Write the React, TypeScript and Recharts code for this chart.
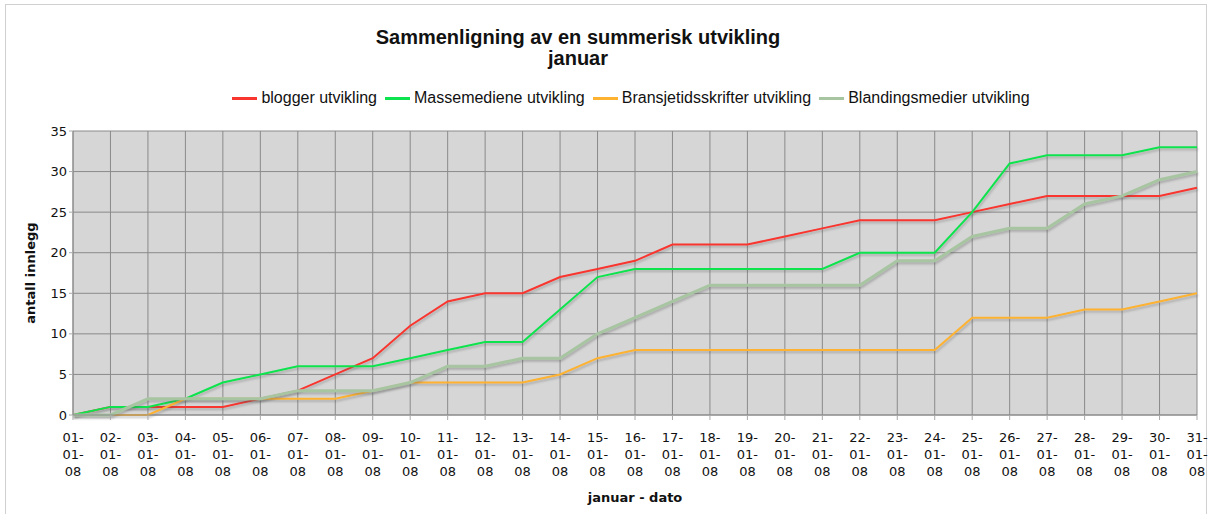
import { LineChart, Line, XAxis, YAxis, CartesianGrid } from "recharts";

const dates = [
  "01-01-08", "02-01-08", "03-01-08", "04-01-08", "05-01-08", "06-01-08", "07-01-08", "08-01-08",
  "09-01-08", "10-01-08", "11-01-08", "12-01-08", "13-01-08", "14-01-08", "15-01-08", "16-01-08",
  "17-01-08", "18-01-08", "19-01-08", "20-01-08", "21-01-08", "22-01-08", "23-01-08", "24-01-08",
  "25-01-08", "26-01-08", "27-01-08", "28-01-08", "29-01-08", "30-01-08", "31-01-08",
];
const blogger = [0, 1, 1, 1, 1, 2, 3, 5, 7, 11, 14, 15, 15, 17, 18, 19, 21, 21, 21, 22, 23, 24, 24, 24, 25, 26, 27, 27, 27, 27, 28];
const massemedier = [0, 1, 1, 2, 4, 5, 6, 6, 6, 7, 8, 9, 9, 13, 17, 18, 18, 18, 18, 18, 18, 20, 20, 20, 25, 31, 32, 32, 32, 33, 33];
const bransje = [0, 0, 0, 2, 2, 2, 2, 2, 3, 4, 4, 4, 4, 5, 7, 8, 8, 8, 8, 8, 8, 8, 8, 8, 12, 12, 12, 13, 13, 14, 15];
const blanding = [0, 0, 2, 2, 2, 2, 3, 3, 3, 4, 6, 6, 7, 7, 10, 12, 14, 16, 16, 16, 16, 16, 19, 19, 22, 23, 23, 26, 27, 29, 30];
const yTicks = [0, 5, 10, 15, 20, 25, 30, 35];

const series = [
  { key: "blogger", name: "blogger utvikling", color: "#f8362f", width: 2 },
  { key: "masse", name: "Massemediene utvikling", color: "#0ce34e", width: 2 },
  { key: "bransje", name: "Bransjetidsskrifter utvikling", color: "#fdb231", width: 2 },
  { key: "blanding", name: "Blandingsmedier utvikling", color: "#a8c5a2", width: 3 },
];

const data = dates.map((date, i) => ({
  date,
  blogger: blogger[i],
  masse: massemedier[i],
  bransje: bransje[i],
  blanding: blanding[i],
}));

const font = "'DejaVu Sans', Verdana, sans-serif";
const sans = "'Liberation Sans', Arial, sans-serif";

function DateTick(props: any) {
  const { x, y, payload } = props;
  const parts = String(payload.value).split("-");
  const lines = [parts[0] + "-", parts[1] + "-", parts[2]];
  return (
    <text x={x} y={y} textAnchor="middle" fontSize={13} fill="#111" fontFamily={font}>
      {lines.map((l, i) => (
        <tspan key={i} x={x} y={y + 20 + i * 17}>
          {l}
        </tspan>
      ))}
    </text>
  );
}

export default function App() {
  return (
    <div style={{ position: "fixed", left: 0, top: 0, width: 1210, height: 514, background: "#fff", overflow: "hidden" }}>
      <div style={{ position: "absolute", left: 5, top: 4, width: 1200, height: 530, border: "1px solid #d0d0d0" }} />
      <div style={{ position: "absolute", left: 328, width: 500, top: 27, textAlign: "center", fontFamily: sans, fontWeight: "bold", fontSize: 20, lineHeight: "21px", color: "#111" }}>
        Sammenligning av en summerisk utvikling
        <br />
        januar
      </div>
      <div style={{ position: "absolute", left: 0, width: 1270, top: 89, display: "flex", justifyContent: "center", fontFamily: sans, fontSize: 16, color: "#111" }}>
        {series.map((s) => (
          <div key={s.key} style={{ display: "flex", alignItems: "center", marginRight: 8 }}>
            <div style={{ width: 25, height: 3, background: s.color, marginRight: 4 }} />
            <span>{s.name}</span>
          </div>
        ))}
      </div>
      <LineChart width={1210} height={514} data={data} margin={{ top: 131, right: 13, bottom: 39, left: 28 }}>
        <defs>
          <filter id="shadow" x="-5%" y="-20%" width="110%" height="140%">
            <feDropShadow dx="1" dy="2" stdDeviation="0.8" floodColor="#555" floodOpacity="0.35" />
          </filter>
        </defs>
        <CartesianGrid fill="#d6d6d6" stroke="#8a8a8a" strokeWidth={1} horizontalValues={yTicks} />
        <XAxis
          dataKey="date"
          interval={0}
          tick={<DateTick />}
          tickSize={5}
          height={60}
          axisLine={{ stroke: "#8a8a8a" }}
          tickLine={{ stroke: "#aaa" }}
        />
        <YAxis
          domain={[0, 35]}
          ticks={yTicks}
          width={45}
          tickSize={4}
          tick={{ fontSize: 13, fill: "#111", fontFamily: font }}
          axisLine={{ stroke: "#8a8a8a" }}
          tickLine={{ stroke: "#aaa" }}
        />
        {series.map((s) => (
          <Line
            key={s.key}
            type="linear"
            dataKey={s.key}
            name={s.name}
            stroke={s.color}
            strokeWidth={s.width}
            dot={false}
            activeDot={false}
            isAnimationActive={false}
            style={{ filter: "url(#shadow)" }}
          />
        ))}
      </LineChart>
      <div style={{ position: "absolute", left: 30, top: 273, transform: "translate(-50%, -50%) rotate(-90deg)", whiteSpace: "nowrap", fontFamily: font, fontWeight: "bold", fontSize: 13, color: "#111" }}>
        antall innlegg
      </div>
      <div style={{ position: "absolute", left: 635, top: 497, transform: "translate(-50%, -50%)", whiteSpace: "nowrap", fontFamily: font, fontWeight: "bold", fontSize: 13, color: "#111" }}>
        januar - dato
      </div>
    </div>
  );
}
